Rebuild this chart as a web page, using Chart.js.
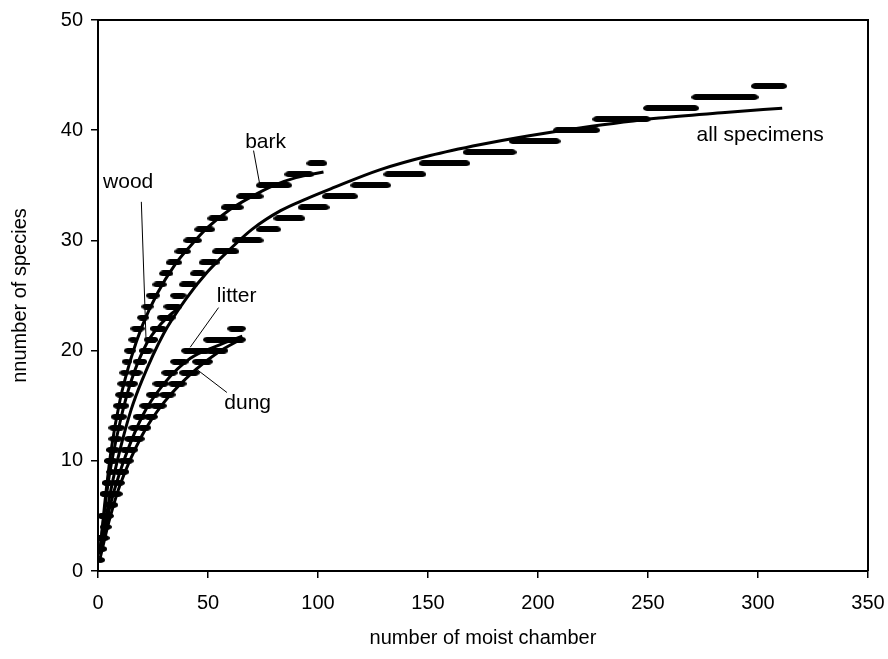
<!DOCTYPE html>
<html>
<head>
<meta charset="utf-8">
<script src="https://cdn.jsdelivr.net/npm/chart.js@4"></script>
<style>
  html, body { margin: 0; padding: 0; background: #fff; }
  #wrap { width: 888px; height: 659px; }
</style>
</head>
<body>
<div id="wrap"><canvas id="myChart"></canvas></div>
<script>
// Axis ticks
const xTicks = [0, 50, 100, 150, 200, 250, 300, 350];
const yTicks = [0, 10, 20, 30, 40, 50];

// Observed species counts: sample number at which count 1, 2, 3 ... is first reached
const allStarts = [1, 1, 2, 3, 3, 4, 4, 5, 6, 7, 8, 9, 10, 11, 12, 13, 15, 17, 19, 21,
  23, 26, 29, 32, 35, 39, 44, 48, 54, 63, 74, 82, 93, 104, 117, 132, 148, 168, 189, 209,
  227, 250, 272, 299];
const allN = 311;
const barkStarts = [1, 1, 1, 2, 2, 3, 3, 4, 5, 5, 6, 7, 7, 8, 9, 10, 11, 12, 13, 14,
  16, 17, 20, 22, 24, 27, 30, 33, 37, 41, 46, 52, 58, 65, 74, 87, 97];
const barkN = 102;
const woodStarts = [1, 1, 1, 2, 2, 3, 3, 4, 5, 5, 6, 7, 8, 9, 11, 12, 14, 16, 18, 21,
  24, 26, 30, 34];
const woodN = 36;
const litterStarts = [1, 1, 2, 3, 4, 5, 6, 8, 9, 11, 12, 14, 16, 18, 21, 24, 27, 31, 35, 40,
  50, 61];
const litterN = 65;
const dungStarts = [1, 2, 3, 4, 5, 6, 8, 10, 11, 13, 15, 17, 20, 23, 26, 30, 34, 39, 45, 51, 58];
const dungN = 65;

// Fitted curves
const allCurveX = [1, 3, 6, 10, 15, 20, 30, 40, 50, 60, 70, 83, 95, 106, 128, 151, 174, 196, 219, 255, 285, 311];
const allCurveY = [1.5, 4, 7.5, 11, 14.6, 17.3, 21.6, 24.7, 27.2, 29.2, 31, 32.7, 33.8, 34.7, 36.4, 37.7, 38.7, 39.5, 40.2, 41.1, 41.6, 42];
const barkCurveX = [1, 3, 6, 10, 15, 20, 27, 35, 42, 50, 60, 70, 80, 90, 102.5];
const barkCurveY = [2, 6, 11, 15.5, 19.3, 22.2, 25.2, 27.8, 29.5, 31.2, 32.8, 34, 35, 35.7, 36.2];
const woodCurveX = [1, 3, 5, 10, 15, 22, 29, 36];
const woodCurveY = [2, 5.5, 8.5, 13.5, 17.2, 20.6, 22.5, 23.8];
const litterCurveX = [1, 5, 10, 20, 30, 42, 55, 65.6];
const litterCurveY = [1.5, 5.5, 9, 14, 17, 19.3, 20.5, 21.3];
const dungCurveX = [1, 5, 10, 20, 30, 44, 55, 65.6];
const dungCurveY = [1.2, 4.5, 7.8, 12.3, 15.3, 18.2, 19.9, 21.1];

// Text labels and leader lines (data units)
const labels = [
  { text: 'bark', x: 66.9, y: 38.4, line: [70.7, 38.15, 73.7, 34.9] },
  { text: 'wood', x: 2.3, y: 34.8, line: [19.7, 33.5, 21.9, 20.6] },
  { text: 'litter', x: 54.0, y: 24.4, line: [54.8, 23.9, 41.9, 20.3] },
  { text: 'dung', x: 57.4, y: 14.7, line: [58.6, 16.2, 44.2, 18.4] },
  { text: 'all specimens', x: 272.1, y: 39.0, line: null }
];

// Ellipse marker used for each moist chamber sample
const marker = document.createElement('canvas');
marker.width = 10;
marker.height = 6;
const mctx = marker.getContext('2d');
mctx.fillStyle = '#000';
mctx.beginPath();
mctx.ellipse(5, 3, 5, 3, 0, 0, Math.PI * 2);
mctx.fill();

// Step data -> one point per sample
function stepPoints(starts, n) {
  const pts = [];
  for (let i = 1; i <= n; i++) {
    let level = 0;
    starts.forEach((s, k) => { if (s <= i) level = k + 1; });
    pts.push({ x: i, y: level });
  }
  return pts;
}

function curvePoints(xs, ys) {
  return xs.map((x, i) => ({ x: x, y: ys[i] }));
}

function obsSet(starts, n) {
  return {
    data: stepPoints(starts, n),
    showLine: false,
    pointStyle: marker,
    pointRadius: 5,
    pointHoverRadius: 5
  };
}

function curveSet(xs, ys) {
  return {
    data: curvePoints(xs, ys),
    showLine: true,
    borderColor: '#000',
    borderWidth: 3,
    pointRadius: 0,
    cubicInterpolationMode: 'monotone',
    fill: false
  };
}

const labelPlugin = {
  id: 'labelPlugin',
  afterDatasetsDraw(chart) {
    const ctx = chart.ctx;
    const xs = chart.scales.x;
    const ys = chart.scales.y;
    ctx.save();
    ctx.fillStyle = '#000';
    ctx.strokeStyle = '#000';
    ctx.lineWidth = 1;
    ctx.font = '21px "Liberation Sans", Arial, sans-serif';
    ctx.textBaseline = 'alphabetic';
    labels.forEach((l) => {
      ctx.fillText(l.text, xs.getPixelForValue(l.x), ys.getPixelForValue(l.y));
      if (l.line) {
        ctx.beginPath();
        ctx.moveTo(xs.getPixelForValue(l.line[0]), ys.getPixelForValue(l.line[1]));
        ctx.lineTo(xs.getPixelForValue(l.line[2]), ys.getPixelForValue(l.line[3]));
        ctx.stroke();
      }
    });
    // frame on top and right
    const a = chart.chartArea;
    ctx.lineWidth = 2;
    ctx.beginPath();
    ctx.moveTo(a.left, a.top);
    ctx.lineTo(a.right, a.top);
    ctx.lineTo(a.right, a.bottom);
    ctx.stroke();
    ctx.restore();
  }
};

const tickFont = { family: '"Liberation Sans", Arial, sans-serif', size: 20 };

const chartConfig = {
  type: 'scatter',
  data: {
    datasets: [
      obsSet(allStarts, allN),
      obsSet(barkStarts, barkN),
      obsSet(woodStarts, woodN),
      obsSet(litterStarts, litterN),
      obsSet(dungStarts, dungN),
      curveSet(allCurveX, allCurveY),
      curveSet(barkCurveX, barkCurveY),
      curveSet(woodCurveX, woodCurveY),
      curveSet(litterCurveX, litterCurveY),
      curveSet(dungCurveX, dungCurveY)
    ]
  },
  options: {
    responsive: true,
    maintainAspectRatio: false,
    animation: false,
    layout: { padding: { left: 0, right: 20, top: 16, bottom: 0 } },
    plugins: {
      legend: { display: false },
      tooltip: { enabled: false }
    },
    scales: {
      x: {
        type: 'linear',
        min: 0,
        max: 350,
        afterBuildTicks: (scale) => { scale.ticks = xTicks.map((v) => ({ value: v })); },
        afterFit: (scale) => {
          scale.height = 88;
          scale.paddingLeft = 0;
          scale.paddingRight = 0;
        },
        ticks: { color: '#000', font: tickFont, padding: 13, maxRotation: 0 },
        grid: { drawOnChartArea: false, drawTicks: true, tickLength: 7, color: '#000', lineWidth: 1.5 },
        border: { display: true, color: '#000', width: 2 },
        title: { display: true, text: 'number of moist chamber', color: '#000', font: tickFont, padding: { top: 0, bottom: 9 } }
      },
      y: {
        type: 'linear',
        min: 0,
        max: 50,
        afterBuildTicks: (scale) => { scale.ticks = yTicks.map((v) => ({ value: v })); },
        afterFit: (scale) => { scale.width = 98; },
        ticks: { color: '#000', font: tickFont, padding: 8 },
        grid: { drawOnChartArea: false, drawTicks: true, tickLength: 7, color: '#000', lineWidth: 1.5 },
        border: { display: true, color: '#000', width: 2 },
        title: { display: true, text: 'nnumber of species', color: '#000', font: tickFont, padding: { top: 8, bottom: 0 } }
      }
    }
  },
  plugins: [labelPlugin]
};

const myChart = new Chart(document.getElementById('myChart'), chartConfig);
</script>
</body>
</html>
